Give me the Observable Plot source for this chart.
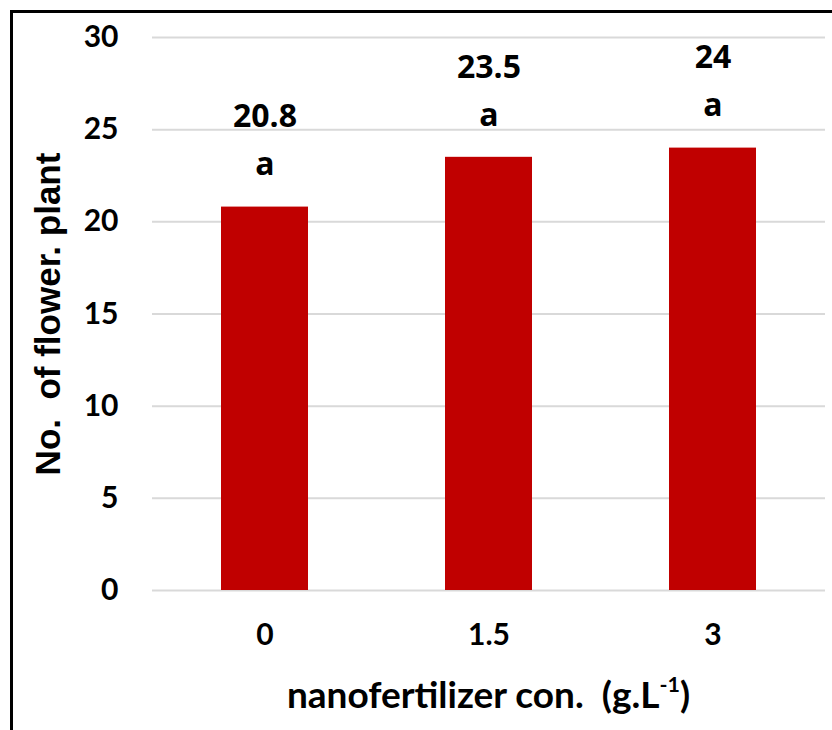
<!DOCTYPE html>
<html>
<head>
<meta charset="utf-8">
<script src="https://cdn.jsdelivr.net/npm/d3@7"></script>
<script src="https://cdn.jsdelivr.net/npm/@observablehq/plot@0.6"></script>
<style>
  body { margin: 0; background: #fff; }
  #wrap { position: relative; width: 832px; height: 730px; overflow: hidden; background: #fff; }
  #frame { position: absolute; left: 10px; top: 10px; width: 840px; height: 740px;
           border-left: 3px solid #000; border-top: 3px solid #000; pointer-events: none; }
  #xtitle { position: absolute; left: 152px; width: 673px; top: 674px; text-align: center;
            font-family: Lato, sans-serif; font-weight: bold; font-size: 37px; color: #000; line-height: 40px; }
  #xtitle sup { font-size: 0.58em; vertical-align: 0.75em; line-height: 0; }
  svg { display: block; }
</style>
</head>
<body>
<div id="wrap">
  <div id="chart"></div>
  <div id="xtitle">nanofertilizer con.&nbsp; (g.L<sup>-1</sup>)</div>
  <div id="frame"></div>
</div>
<script>
// Number of flowers per plant at each nanofertilizer concentration
const concentrations = ["0", "1.5", "3"];
const flowers = [20.8, 23.5, 24];
const letters = ["a", "a", "a"];
const yTicks = [0, 5, 10, 15, 20, 25, 30];

const data = concentrations.map((c, i) => ({conc: c, value: flowers[i], letter: letters[i]}));

const numFont = "Lato, sans-serif";
const labelFont = "'Open Sans', sans-serif";

const chart = Plot.plot({
  width: 832,
  height: 660,
  marginLeft: 152,
  marginRight: 7,
  marginTop: 37,
  marginBottom: 70,
  style: {fontFamily: numFont, color: "#000", background: "#fff", overflow: "visible"},
  x: {domain: concentrations, paddingInner: 0.61, paddingOuter: 0.305, label: null},
  y: {domain: [0, 30], label: null},
  marks: [
    Plot.gridY(yTicks, {stroke: "#d9d9d9", strokeOpacity: 1, strokeWidth: 2}),
    Plot.barY(data, {x: "conc", y: "value", fill: "#C00000"}),
    // mean value and significance letter above each bar
    Plot.text(data, {x: "conc", y: "value", text: d => String(d.value), dy: -90,
                     fontSize: 32, fontWeight: "bold", fontFamily: labelFont, fill: "#000"}),
    Plot.text(data, {x: "conc", y: "value", text: "letter", dy: -42,
                     fontSize: 32, fontWeight: "bold", fontFamily: labelFont, fill: "#000"}),
    Plot.axisY(yTicks, {tickSize: 0, tickPadding: 34, fontSize: 30, fontWeight: "bold", label: null}),
    Plot.axisX({tickSize: 0, tickPadding: 33, fontSize: 30, fontWeight: "bold", label: null}),
    Plot.text(["No.\u00a0 of flower. plant"], {frameAnchor: "left", dx: -104, rotate: -90,
                     textAnchor: "middle",
                     fontSize: 35, fontWeight: "bold", fontFamily: "Liberation Sans, Arial, sans-serif",
                     fill: "#000"})
  ]
});
document.getElementById("chart").appendChild(chart);
</script>
</body>
</html>
